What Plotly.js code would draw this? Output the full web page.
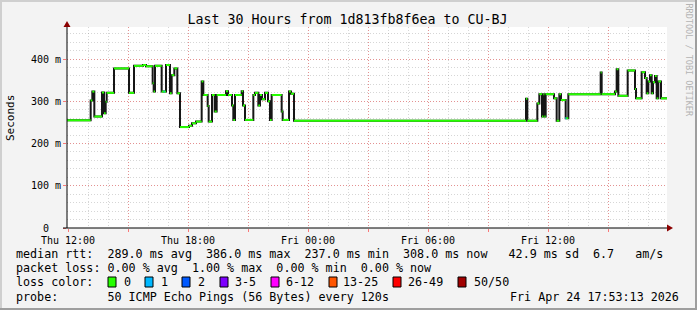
<!DOCTYPE html>
<html><head><meta charset="utf-8">
<script src="https://cdn.plot.ly/plotly-3.0.1.min.js"></script>
<style>html,body{margin:0;padding:0;background:#f3f3f3;} #chart{width:697px;height:310px;}</style>
</head><body><div id="chart"></div>
<script>
// ---- data ----
const startUTC = Date.UTC(2026, 3, 23, 12, 0); // Thu Apr 23 12:00
const minutesFromStart = [-3,68,73,79,102,108,113,116,138,183,198,225,234,254,257,261,281,294,306,311,319,328,336,363,372,384,401,406,419,422,432,440,446,474,480,492,496,501,521,525,531,556,561,571,576,582,591,600,606,611,641,644,663,669,678,1374,1378,1408,1414,1422,1426,1429,1433,1458,1466,1474,1479,1493,1501,1598,1601,1641,1646,1651,1679,1701,1704,1721,1731,1736,1741,1746,1751,1755,1761,1766,1771,1779,1797];
const medianRttMs = [255,302,323,264,321,272,299,320,378,320,384,386,383,343,323,384,323,386,319,362,378,319,239,242,248,252,347,315,289,252,315,276,315,324,315,290,256,315,324,290,256,315,320,290,315,305,320,300,256,315,276,256,323,318,254,306,254,295,317,264,317,264,317,307,254,317,303,260,317,368,317,323,376,313,373,329,307,369,355,319,347,362,319,345,360,307,347,307,307];
const loss1Minutes = [288, 1493];
const loss1Ms = [323, 260];
const xTickMinutes = [0,180,360,540,720,900,1080,1260,1440,1620];
const xTickLabels = ['Thu 12:00','','Thu 18:00','','Fri 00:00','','Fri 06:00','','Fri 12:00',''];
const yTickVals = [0,100,200,300,400];
const yTickLabels = ['0\u00a0\u00a0','100 m','200 m','300 m','400 m'];
const lossColors = ['#26ff00','#00b8ff','#0059ff','#7e00ff','#ff00ff','#ff5500','#ff0000','#a10000'];
const lossLabels = ['0','1','2','3-5','6-12','13-25','26-49','50/50'];
const titleText = 'Last 30 Hours from 1d813fb8f6ea to CU-BJ';
const statRtt = 'median rtt:  289.0 ms avg  386.0 ms max  237.0 ms min  308.0 ms now   42.9 ms sd  6.7   am/s';
const statLoss = 'packet loss: 0.00 % avg  1.00 % max  0.00 % min  0.00 % now';
const lossRowLabel = 'loss color:';
const probeText = 'probe:       50 ICMP Echo Pings (56 Bytes) every 120s';
const stampText = 'Fri Apr 24 17:53:13 2026';
const watermark = 'RRDTOOL / TOBI OETIKER';

// ---- helpers ----
function toDate(m){ return new Date(startUTC + m*60000).toISOString().slice(0,19).replace('T',' '); }
const L=67, T=27, W=600, H=201, FW=697, FH=310;
function px(x){ return (x-L)/W; }
function py(y){ return (T+H-y)/H; }
function nb(s){ return s.replace(/ /g,'\u00a0'); }
const mono = 'DejaVu Sans Mono';

const tx = minutesFromStart.map(toDate);
// green horizontal steps
const gx=[], gy=[];
for(let i=0;i<minutesFromStart.length-1;i++){ gx.push(tx[i], tx[i+1], null); gy.push(medianRttMs[i], medianRttMs[i], null); }
const cx=[], cy=[];
for(let i=0;i<loss1Minutes.length;i++){ cx.push(toDate(loss1Minutes[i]-1), toDate(loss1Minutes[i]+2), null); cy.push(loss1Ms[i], loss1Ms[i], null); }

const traces = [
  {x: tx, y: medianRttMs, type:'scatter', mode:'lines', line:{shape:'hv', color:'#161616', width:2}, hoverinfo:'skip'},
  {x: gx, y: gy, type:'scatter', mode:'lines', line:{color:lossColors[0], width:2}, connectgaps:false, hoverinfo:'skip'},
  {x: cx, y: cy, type:'scatter', mode:'lines', line:{color:lossColors[1], width:2}, connectgaps:false, hoverinfo:'skip'}
];

const shapes = [];
const annotations = [];
function rectPx(x0,y0,x1,y1,fill,line){ shapes.push({type:'rect', xref:'paper', yref:'paper', x0:px(x0), x1:px(x1), y0:py(y1), y1:py(y0), fillcolor:fill, line: line||{width:0}, layer:'above'}); }
function textPx(t, x, y, opts){ annotations.push(Object.assign({text:nb(t), xref:'paper', yref:'paper', x:px(x), y:py(y), showarrow:false, xanchor:'left', yanchor:'middle', font:{family:mono, size:11.7, color:'#000'}, borderpad:0}, opts||{})); }

// frame
rectPx(0,0,FW,2,'#cfcfcf');
rectPx(0,0,2,FH,'#cfcfcf');
rectPx(FW-2,0,FW,FH,'#9e9e9e');
rectPx(0,FH-2,FW,FH,'#9e9e9e');
// axis extensions + arrows
shapes.push({type:'line', xref:'paper', yref:'paper', x0:px(67), x1:px(67), y0:py(228), y1:py(24), line:{color:'#000', width:1}});
shapes.push({type:'line', xref:'paper', yref:'paper', x0:px(63), x1:px(670), y0:py(228), y1:py(228), line:{color:'#000', width:1}});
shapes.push({type:'path', xref:'paper', yref:'paper', path:`M ${px(63.5)} ${py(27)} L ${px(70.5)} ${py(27)} L ${px(67)} ${py(21)} Z`, fillcolor:'#8b0000', line:{width:0}});
shapes.push({type:'path', xref:'paper', yref:'paper', path:`M ${px(667)} ${py(224.5)} L ${px(667)} ${py(231.5)} L ${px(673)} ${py(228)} Z`, fillcolor:'#8b0000', line:{width:0}});

// text rows
textPx(statRtt, 15, 254);
textPx(statLoss, 15, 268);
textPx(lossRowLabel, 15, 282);
textPx(probeText, 15, 297);
textPx(stampText, 680, 297, {xanchor:'right'});
const swX = [108,145,182,220,271,329,393,458];
const lbX = [123,160,197,234,285,342,407,473];
for(let i=0;i<lossColors.length;i++){
  rectPx(swX[i], 277, swX[i]+8, 287, lossColors[i], {color:'#000', width:1});
  textPx(lossLabels[i], lbX[i], 282);
}
// y title and watermark
annotations.push({text:'Seconds', xref:'paper', yref:'paper', x:px(10), y:py(118), showarrow:false, textangle:-90, xanchor:'center', yanchor:'middle', font:{family:mono, size:11, color:'#000'}});
annotations.push({text:nb(watermark), xref:'paper', yref:'paper', x:px(688.5), y:py(60), showarrow:false, textangle:90, xanchor:'center', yanchor:'middle', font:{family:mono, size:8.5, color:'#b4b4b4'}});

const layout = {
  width: FW, height: FH,
  margin: {l:L, r:FW-L-W, t:T, b:FH-T-H, pad:0},
  paper_bgcolor:'#f3f3f3', plot_bgcolor:'#ffffff',
  showlegend:false,
  title:{text:titleText, xref:'container', yref:'container', x:347.5/FW, y:1-19/FH, xanchor:'center', yanchor:'middle', font:{family:mono, size:13.3, color:'#000'}},
  xaxis:{type:'date', range:[toDate(-3), toDate(1797)], tickmode:'array', tickvals:xTickMinutes.map(toDate), ticktext:xTickLabels,
    showgrid:true, gridcolor:'rgba(255,0,0,0.32)', griddash:'1px,2px', gridwidth:1,
    minor:{tickmode:'linear', tick0:toDate(0), dtick:3600000, showgrid:true, gridcolor:'rgba(128,128,128,0.32)', griddash:'1px,2px', gridwidth:1},
    showline:false, zeroline:false, ticks:'outside', ticklen:3, tickcolor:'rgba(255,0,0,0.5)',
    tickfont:{family:mono, size:10, color:'#000'}, fixedrange:true},
  yaxis:{range:[0,476], tickmode:'array', tickvals:yTickVals, ticktext:yTickLabels,
    showgrid:true, gridcolor:'rgba(255,0,0,0.32)', griddash:'1px,2px', gridwidth:1,
    minor:{tickmode:'linear', tick0:0, dtick:20, showgrid:true, gridcolor:'rgba(128,128,128,0.32)', griddash:'1px,2px', gridwidth:1},
    showline:false, zeroline:false, ticks:'outside', ticklen:3, tickcolor:'rgba(255,0,0,0.5)',
    tickfont:{family:mono, size:10, color:'#000'}, fixedrange:true},
  shapes: shapes,
  annotations: annotations
};
Plotly.newPlot('chart', traces, layout, {staticPlot:true, displayModeBar:false});
</script></body></html>
